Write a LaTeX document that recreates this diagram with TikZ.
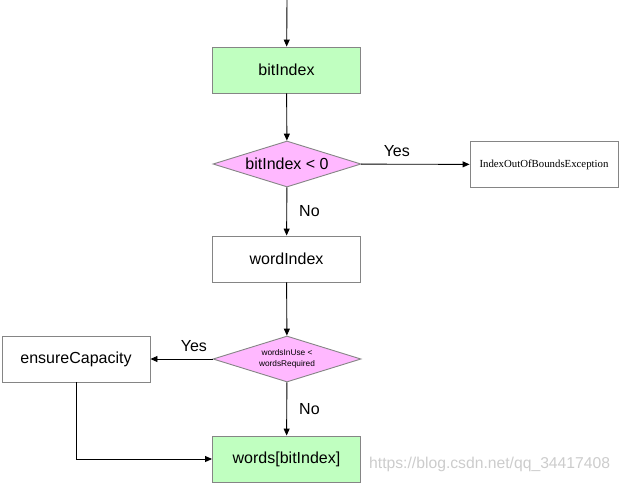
\documentclass[tikz,border=0pt]{standalone}
\usepackage{fontspec}
\setmainfont{Liberation Sans}
\newfontfamily\timesf{Liberation Serif}
\usetikzlibrary{arrows.meta,shapes.geometric}
\definecolor{boxgreen}{HTML}{C0FFC0}
\definecolor{diapink}{HTML}{FFB8FF}
\definecolor{edgegray}{HTML}{858585}
\tikzset{
  x=1pt,y=-1pt,
  procbox/.style={draw=edgegray,line width=0.9pt,minimum width=148pt,minimum height=46pt,inner sep=0pt,font=\fontsize{16}{19}\selectfont},
  greenbox/.style={procbox,fill=boxgreen},
  whitebox/.style={procbox,fill=white},
  decision/.style={diamond,draw=edgegray,line width=0.9pt,fill=diapink,aspect=3.2,inner sep=0pt,minimum width=148pt,minimum height=46pt},
  flow/.style={line width=0.9pt,-{Triangle[length=7pt,width=6pt]}},
  lbl/.style={font=\fontsize{16}{19}\selectfont,inner sep=0pt}
}
\begin{document}
\begin{tikzpicture}
\useasboundingbox (0,0) rectangle (619,483);
\coordinate (start) at (287,0);
\node[greenbox] (bit) at (286.5,70) {bitIndex};
\node[decision,font=\fontsize{16}{19}\selectfont] (d1) at (287,164) {bitIndex < 0};
\node[whitebox,font=\timesf\fontsize{10.8}{13}\selectfont] (ex) at (544,164.5) {IndexOutOfBoundsException};
\node[whitebox] (word) at (286.5,259) {wordIndex};
\node[decision,font=\fontsize{8.3}{11}\selectfont,align=center] (d2) at (287,359) {wordsInUse <\\wordsRequired};
\node[whitebox] (ens) at (76,359) {ensureCapacity};
\node[greenbox] (words) at (286.5,459) {words[bitIndex]};
\coordinate (corner) at (ens.south |- words.west);

\draw[flow] (start) -- (bit);
\draw[flow] (bit) -- (d1);
\draw[flow] (d1) -- node[lbl,pos=0.33,above=7pt] {Yes} (ex);
\draw[flow] (d1) -- node[lbl,right=12pt] {No} (word);
\draw[flow] (word) -- (d2);
\draw[flow] (d2) -- node[lbl,pos=0.3,above=7pt] {Yes} (ens);
\draw[flow] (d2) -- node[lbl,right=12pt] {No} (words);
\draw[flow] (ens.south) -- (corner) -- (words.west);

\node[font=\fontsize{15.7}{18}\selectfont,text=black!20,anchor=west,inner sep=0pt] (wm) at (369,464) {https://blog.csdn.net/qq\_34417408};
\end{tikzpicture}
\end{document}
